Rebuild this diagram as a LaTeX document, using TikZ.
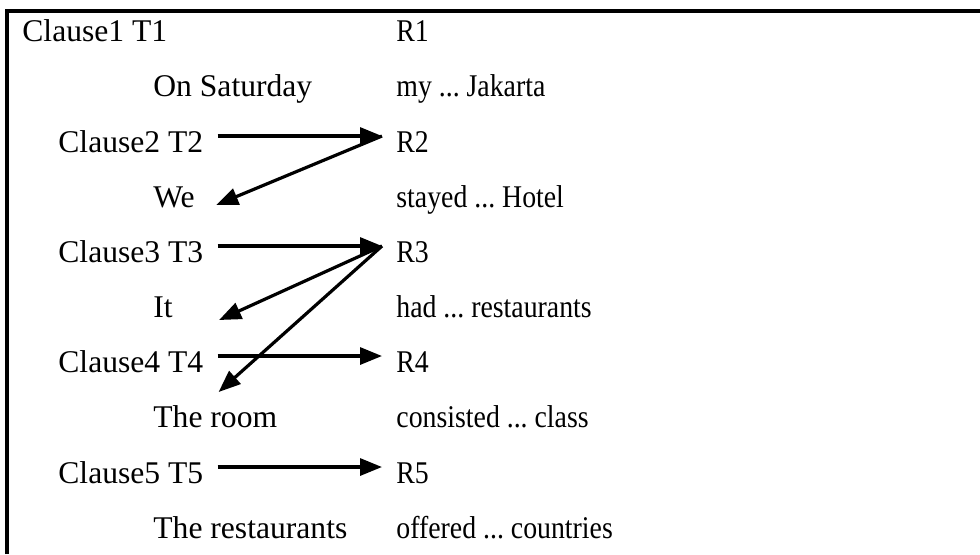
\documentclass[tikz,border=0pt]{standalone}
\usepackage{fontspec}
\setmainfont{Liberation Serif}
\newfontfamily\narrowserif[FakeStretch=0.88]{Liberation Serif}
\usetikzlibrary{arrows.meta}
\frenchspacing

\tikzset{
  txt/.style={anchor=base west, inner sep=0pt, font=\fontsize{15.8}{19}\selectfont},
  rtxt/.style={txt, font=\fontsize{15.8}{19}\narrowserif},
  arr/.style={line width=1.6pt, -{Triangle[length=11pt,width=8.5pt]}}
}

\begin{document}
\begin{tikzpicture}[x=0.5pt, y=-0.5pt]
                \useasboundingbox (0,0) rectangle (980,554);
                \draw [line width=1.6pt] (7,554) -- (7,11) -- (980,11);

                \node [txt] (c1) at (22,41) {Clause1 T1};
                \node [rtxt] (r1) at (396,41) {R1};
                \node [txt] (t1) at (153,96) {On Saturday};
                \node [rtxt] (h1) at (396,96) {my ... Jakarta};
%
                \node [txt] (c2) at (58,152) {Clause2 T2};
                \node [rtxt] (r2) at (396,152) {R2};
                \node [txt] (t2) at (153,207) {We};
                \node [rtxt] (h2) at (396,207) {stayed ... Hotel};
%
                \node [txt] (c3) at (58,262) {Clause3 T3};
                \node [rtxt] (r3) at (396,262) {R3};
                \node [txt] (t3) at (153,317) {It};
                \node [rtxt] (h3) at (396,317) {had ... restaurants};
%
                \node [txt] (c4) at (58,372) {Clause4 T4};
                \node [rtxt] (r4) at (396,372) {R4};
                \node [txt] (t4) at (153,427) {The room};
                \node [rtxt] (h4) at (396,427) {consisted ... class};
%
                \node [txt] (c5) at (58,483) {Clause5 T5};
                \node [rtxt] (r5) at (396,483) {R5};
                \node [txt] (t5) at (153,538) {The restaurants};
                \node [rtxt] (h5) at (396,538) {offered ... countries};
%
                \draw [arr] ([shift={(7pt,8pt)}]c2.base east) -- ([shift={(-7pt,8pt)}]r2.base west);
                \draw [arr] ([shift={(-7pt,8pt)}]r2.base west) -- ([shift={(10.5pt,1pt)}]t2.base east);
                \draw [arr] ([shift={(7pt,8pt)}]c3.base east) -- ([shift={(-7pt,8pt)}]r3.base west);
                \draw [arr] ([shift={(-7pt,8pt)}]r3.base west) -- ([shift={(23pt,-1.5pt)}]t3.base east);
                \draw [arr] ([shift={(-7pt,8pt)}]r3.base west) -- ([shift={(7.5pt,-10pt)}]c4.base east);
                \draw [arr] ([shift={(7pt,8pt)}]c4.base east) -- ([shift={(-7pt,8pt)}]r4.base west);
                \draw [arr] ([shift={(7pt,8pt)}]c5.base east) -- ([shift={(-7pt,8pt)}]r5.base west);
\end{tikzpicture}
\end{document}
